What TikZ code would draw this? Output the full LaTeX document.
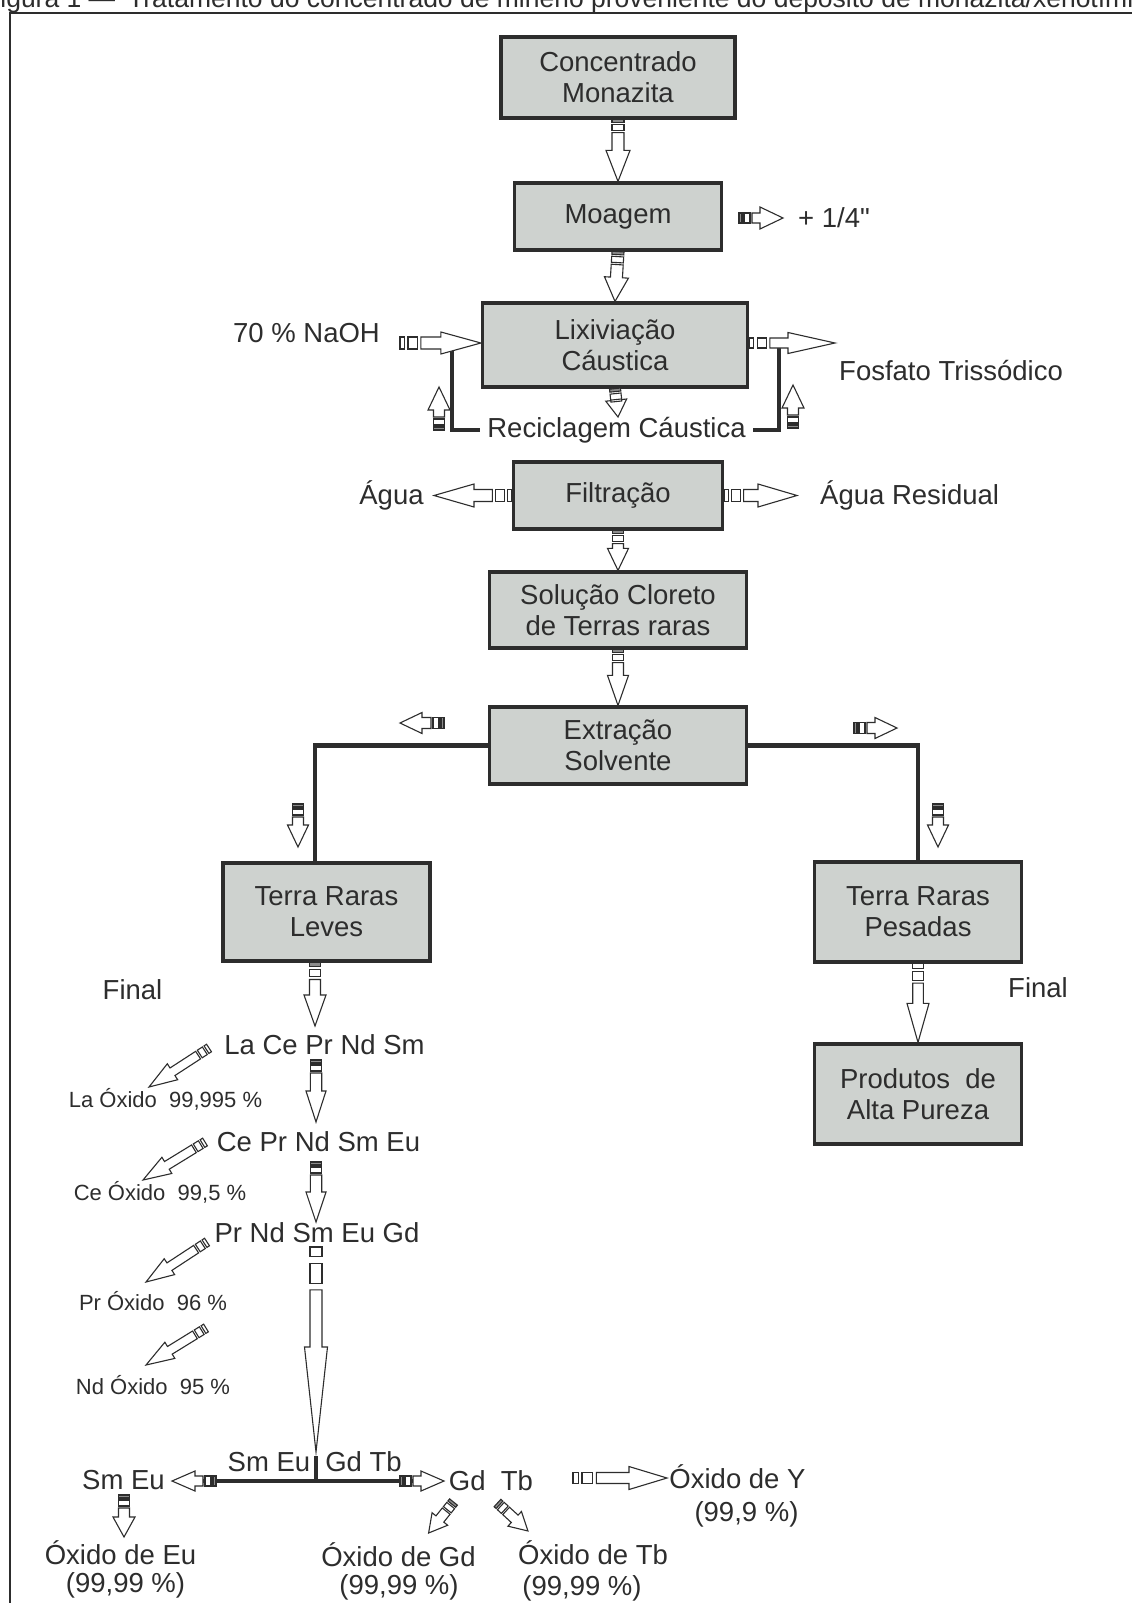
\documentclass[tikz,border=0pt]{standalone}
\usepackage{fontspec}
\setmainfont{Liberation Sans}[Ligatures=TeXOff]
\usetikzlibrary{calc}
\definecolor{boxfill}{RGB}{206,210,207}
\definecolor{ink}{RGB}{45,45,45}
\definecolor{tailgray}{RGB}{140,140,140}
\newcommand{\bigf}{\fontsize{27.5}{31}\selectfont}
\newcommand{\smf}{\fontsize{22}{26}\selectfont}
\newcommand{\capf}{\fontsize{26.5}{28}\selectfont}
% fat block arrow from tail #2 to tip #3; head length #4, head half-width #5, shaft half-width #6, tail scale #7; #1 = fill of the first tail block
\newcommand{\farrow}[7][tailgray]{%
  \path (#2); \pgfgetlastxy{\FAxa}{\FAya}%
  \path (#3); \pgfgetlastxy{\FAxb}{\FAyb}%
  \pgfmathsetmacro\FAang{atan2(\FAyb-\FAya,\FAxb-\FAxa)}%
  \pgfmathsetmacro\FAlen{veclen(\FAxb-\FAxa,\FAyb-\FAya)}%
  \pgfmathsetmacro\FAa{3*#7}%
  \pgfmathsetmacro\FAb{5*#7}%
  \pgfmathsetmacro\FAc{11*#7}%
  \pgfmathsetmacro\FAd{13*#7}%
  \pgfmathsetmacro\FAe{\FAlen-#4}%
  \begin{scope}[shift={(\FAxa,\FAya)}, rotate=\FAang, x=1pt, y=1pt]
    \draw[arrline, fill=#1] (0,-#6) rectangle (\FAa,#6);
    \draw[arrline, fill=white] (\FAb,-#6) rectangle (\FAc,#6);
    \draw[arrline, fill=white] (\FAd,-#6) -- (\FAe,-#6) -- (\FAe,-#5) -- (\FAlen,0) -- (\FAe,#5) -- (\FAe,#6) -- (\FAd,#6) -- cycle;
  \end{scope}}
\tikzset{
  box/.style={draw=ink, line width=3.2pt, fill=boxfill, align=center, inner sep=0pt, font=\bigf, text=ink},
  lbl/.style={inner sep=0pt, font=\bigf, text=ink, anchor=base},
  slbl/.style={inner sep=0pt, font=\smf, text=ink, anchor=base},
  pipe/.style={draw=ink, line width=4.5pt},
  arrline/.style={draw=ink, line width=1.1pt, line join=miter},
}
\begin{document}
\begin{tikzpicture}[x=1pt,y=-1pt]
\useasboundingbox (0,0) rectangle (1132,1603);
\fill[white] (0,0) rectangle (1132,1603);

% caption (cut at top, as in the source) and frame
\node[inner sep=0pt, anchor=base west, font=\capf, text=ink] (cap1) at (-16,8) {Figura 1 —};
\node[inner sep=0pt, anchor=base west, font=\capf, text=ink] (cap2) at (128,8) {Tratamento do concentrado de minério proveniente do depósito de monazita/xenotímio};
\draw[ink, line width=2pt] (9.5,1620) -- (9.5,13) -- (1145,13);

% boxes
\node[box, minimum width=234pt, minimum height=81pt] (conc) at (618,77.5) {Concentrado\\Monazita};
\node[box, minimum width=207pt, minimum height=67pt] (moag) at (618,216.5) {Moagem};
\node[box, minimum width=265pt, minimum height=84pt] (lix) at (615,345) {Lixiviação\\Cáustica};
\node[box, minimum width=209pt, minimum height=67pt] (filt) at (618,495.5) {Filtração};
\node[box, minimum width=257pt, minimum height=76pt] (sol) at (618,610) {Solução Cloreto\\de Terras raras};
\node[box, minimum width=257pt, minimum height=77pt] (ext) at (618,745.5) {Extração\\Solvente};
\node[box, minimum width=207pt, minimum height=98pt] (leves) at (326.5,912) {Terra Raras\\Leves};
\node[box, minimum width=207pt, minimum height=100pt] (pes) at (918,912) {Terra Raras\\Pesadas};
\node[box, minimum width=207pt, minimum height=100pt] (prod) at (918,1094) {Produtos\ \ de\\Alta Pureza};

% labels
\node[lbl] (naoh) at (306.5,342) {70 \% NaOH};
\node[lbl, anchor=base west] (quarter) at (798,227) {+ 1/4"};
\node[lbl, anchor=base west] (fosf) at (839,380) {Fosfato Trissódico};
\node[lbl] (recic) at (616.5,437) {Reciclagem Cáustica};
\node[lbl] (agua) at (391.5,504) {Água};
\node[lbl, anchor=base west] (aguares) at (820,504) {Água Residual};
\node[lbl] (finL) at (132.5,999) {Final};
\node[lbl] (finR) at (1038,997) {Final};
\node[lbl] (lace) at (324.5,1054) {La Ce Pr Nd Sm};
\node[lbl] (cepr) at (318.5,1151) {Ce Pr Nd Sm Eu};
\node[lbl] (prnd) at (317,1242) {Pr Nd Sm Eu Gd};
\node[slbl] (laox) at (165.5,1107) {La Óxido\ \ 99,995 \%};
\node[slbl] (ceox) at (160,1200) {Ce Óxido\ \ 99,5 \%};
\node[slbl] (prox) at (153,1310) {Pr Óxido\ \ 96 \%};
\node[slbl] (ndox) at (153,1394) {Nd Óxido\ \ 95 \%};
\node[lbl] (smeuT) at (269,1471) {Sm Eu};
\node[lbl] (gdtbT) at (363.5,1471) {Gd Tb};
\node[lbl] (smeu) at (123.5,1489) {Sm Eu};
\node[lbl] (gdtb) at (491,1490) {Gd\ \ Tb};
\node[lbl] (oxeu) at (120.5,1564) {Óxido de Eu};
\node[lbl] (pceu) at (125.5,1592) {(99,99 \%)};
\node[lbl] (oxgd) at (398.5,1566) {Óxido de Gd};
\node[lbl] (pcgd) at (399,1594) {(99,99 \%)};
\node[lbl] (oxtb) at (593,1564) {Óxido de Tb};
\node[lbl] (pctb) at (582,1595) {(99,99 \%)};
\node[lbl] (oxy) at (737.5,1488) {Óxido de Y};
\node[lbl] (pcy) at (746.5,1521) {(99,9 \%)};

% coordinates for free connector ends
\coordinate (recTip) at (618,417);
\coordinate (naohT) at (400,343);
\coordinate (naohTip) at (naohT -| lix.west);
\coordinate (fosTip) at (835,343);
\coordinate (fosT) at (fosTip -| lix.east);
\coordinate (qT) at (739,218);
\coordinate (qTip) at (783,218);
\coordinate (lrecA) at (452,348);
\coordinate (lrecB) at (480,430);
\coordinate (rrecA) at (753,430);
\coordinate (rrecB) at (779,348);
\coordinate (luT) at (439,430);
\coordinate (luTip) at (439,387);
\coordinate (ruT) at (793,428);
\coordinate (ruTip) at (793,385);
\coordinate (aguaTip) at (434,495.5);
\coordinate (arTip) at (797,495.5);
\coordinate (lx) at (315,0);
\coordinate (levesTop) at (leves.north -| lx);
\coordinate (levesBot) at (leves.south -| lx);
\coordinate (elT) at (444,723);
\coordinate (elTip) at (400,723);
\coordinate (erT) at (854,728);
\coordinate (erTip) at (897,728);
\coordinate (dlT) at (298,804);
\coordinate (dlTip) at (298,847);
\coordinate (drT) at (938,804);
\coordinate (drTip) at (938,847);
\coordinate (c1T) at (315,1026);
\coordinate (c2T) at (316,1060);
\coordinate (c2Tip) at (316,1122);
\coordinate (c3T) at (316,1162);
\coordinate (c3Tip) at (316,1222);
\coordinate (c4T) at (316,1247);
\coordinate (c4Tip) at (316,1452);
\coordinate (d1T) at (209,1048);
\coordinate (d1Tip) at (149,1087);
\coordinate (d2T) at (205,1142);
\coordinate (d2Tip) at (143,1180);
\coordinate (d3T) at (207,1242);
\coordinate (d3Tip) at (146,1282);
\coordinate (d4T) at (206,1328);
\coordinate (d4Tip) at (146,1365);
\coordinate (tL) at (195,1481);
\coordinate (tR) at (421,1481);
\coordinate (tTop) at (316,1456);
\coordinate (tMid) at (316,1481);
\coordinate (slT) at (216,1481);
\coordinate (slTip) at (172,1481);
\coordinate (srT) at (400,1481);
\coordinate (srTip) at (444,1481);
\coordinate (seT) at (124,1495);
\coordinate (seTip) at (124,1537);
\coordinate (gdT) at (453.5,1502);
\coordinate (gdTip) at (428.6,1533);
\coordinate (tbT) at (497.5,1503);
\coordinate (tbTip) at (528,1531);
\coordinate (yT) at (573,1478);
\coordinate (yTip) at (667,1478);

% thick process lines
\draw[pipe] (lrecA) |- (lrecB);
\draw[pipe] (rrecA) -| (rrecB);
\draw[pipe] (ext.west) -| (levesTop);
\draw[pipe] (ext.east) -| (pes.north);
\draw[pipe] (tL) -- (tR);
\draw[pipe] (tTop) -- (tMid);

% block arrows
\farrow{conc.south}{moag.north}{31}{12}{6}{1}
\farrow{moag.south}{lix.north}{24}{12}{6}{1}
\farrow{lix.south}{recTip}{17}{10.5}{5.5}{1}
\farrow[white]{naohT}{naohTip}{40}{11}{6}{1.6}
\farrow[white]{fosT}{fosTip}{47}{10.5}{5}{1.6}
\farrow{qT}{qTip}{23}{11}{5}{1}
\farrow{luT}{luTip}{23}{11}{5.5}{1}
\farrow{ruT}{ruTip}{23}{11}{5.5}{1}
\farrow[white]{filt.west}{aguaTip}{40}{11.5}{6}{1.5}
\farrow[white]{filt.east}{arTip}{39}{11.5}{6}{1.5}
\farrow{filt.south}{sol.north}{22}{10.5}{5.5}{1}
\farrow{sol.south}{ext.north}{30}{10.5}{5.5}{1}
\farrow{elT}{elTip}{22}{10.5}{5.5}{1}
\farrow{erT}{erTip}{22}{10.5}{5.5}{1}
\farrow{dlT}{dlTip}{22}{10.5}{5.5}{1}
\farrow{drT}{drTip}{22}{10.5}{5.5}{1}
\farrow{levesBot}{c1T}{31}{11}{5.5}{1.3}
\farrow[white]{pes.south}{prod.north}{39}{11}{5.3}{1.5}
\farrow{c2T}{c2Tip}{31}{10}{5.7}{1}
\farrow{c3T}{c3Tip}{30}{10}{5.7}{1}
\farrow[white]{c4T}{c4Tip}{105}{11.5}{6}{3.3}
\farrow[white]{d1T}{d1Tip}{28}{9.5}{4.5}{1}
\farrow[white]{d2T}{d2Tip}{28}{9.5}{4.5}{1}
\farrow[white]{d3T}{d3Tip}{28}{9.5}{4.5}{1}
\farrow[white]{d4T}{d4Tip}{28}{9.5}{4.5}{1}
\farrow{slT}{slTip}{23}{10}{5}{1}
\farrow{srT}{srTip}{23}{10}{5}{1}
\farrow{seT}{seTip}{20}{11}{5.5}{1}
\farrow{gdT}{gdTip}{18}{10}{5}{0.9}
\farrow{tbT}{tbTip}{18}{10}{5}{0.9}
\farrow[white]{yT}{yTip}{38}{11.5}{5.5}{1.8}
\end{tikzpicture}
\end{document}
